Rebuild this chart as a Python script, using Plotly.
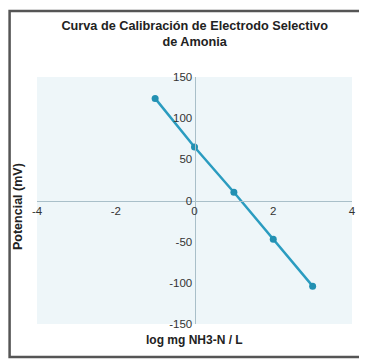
import plotly.graph_objects as go

log_conc = [-1, 0, 1, 2, 3]
potencial = [124, 65, 10, -47, -104]

x_ticks = [-4, -2, 0, 2, 4]
x_tick_labels = ["-4", "-2", "0", "2", "4"]
y_ticks = [-150, -100, -50, 0, 50, 100, 150]
y_tick_labels = ["-150", "-100", "-50", "0", "50", "100", "150"]

title_text = "Curva de Calibración de Electrodo Selectivo<br>de Amonia"
x_title = "log mg NH3-N / L"
y_title = "Potencial (mV)"

line_color = "#2b9cc0"
narrow = "Liberation Sans Narrow, Arial Narrow, Liberation Sans, Arial"

fig = go.Figure()
fig.add_trace(go.Scatter(
    x=log_conc, y=potencial, mode="lines+markers",
    line=dict(color=line_color, width=2.5),
    marker=dict(color="#2290b2", size=7),
    showlegend=False,
))

fig.update_layout(
    width=359, height=352,
    margin=dict(l=29, r=11, t=69, b=36),
    paper_bgcolor="white",
    plot_bgcolor="#eef6f9",
    title=dict(text="<b>" + title_text + "</b>", x=0.52, xanchor="center",
               y=0.938, yanchor="top",
               font=dict(family=narrow, size=12.7, color="#222")),
    xaxis=dict(range=[-4, 4], tickvals=x_ticks, ticktext=x_tick_labels,
               anchor="free", position=0.5,
               showgrid=False, zeroline=False, showline=True, linecolor="#a9bfc9",
               linewidth=1, ticks="", ticklen=0,
               tickfont=dict(family=narrow, size=11.5, color="#333")),
    yaxis=dict(range=[-150, 150], tickvals=y_ticks, ticktext=y_tick_labels,
               anchor="free", position=0.5,
               showgrid=False, zeroline=False, showline=True, linecolor="#a9bfc9",
               linewidth=1, ticks="", ticklen=0,
               tickfont=dict(family=narrow, size=11.5, color="#333")),
    annotations=[
        dict(text="<b>" + x_title + "</b>", xref="paper", yref="paper",
             x=0.5, y=-0.065, xanchor="center", yanchor="middle", showarrow=False,
             font=dict(family=narrow, size=12, color="#222")),
        dict(text="<b>" + y_title + "</b>", xref="paper", yref="paper",
             x=-0.06, y=0.474, xanchor="center", yanchor="middle", showarrow=False,
             textangle=-90,
             font=dict(family="Liberation Sans, Arial", size=12.5, color="#222")),
    ],
    shapes=[
        dict(type="rect", xref="paper", yref="paper",
             x0=-0.087, x1=1.03, y0=-0.134, y1=1.267,
             line=dict(color="#555", width=2.5), fillcolor="rgba(0,0,0,0)",
             layer="above"),
    ],
)

fig.write_html("out.html")
